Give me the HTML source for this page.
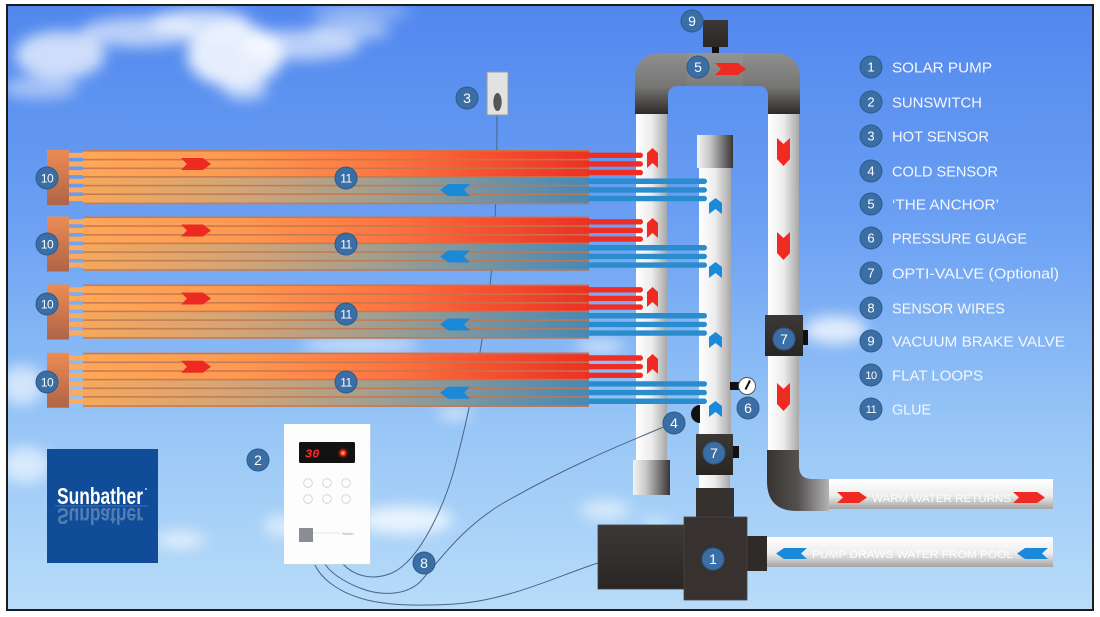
<!DOCTYPE html>
<html><head><meta charset="utf-8">
<style>
html,body{margin:0;padding:0;background:#fff;}
svg{display:block;}
</style></head><body>
<svg width="1100" height="617" viewBox="0 0 1100 617" xmlns="http://www.w3.org/2000/svg" font-family="'Liberation Sans', sans-serif">
<defs>
 <linearGradient id="sky" x1="0" y1="0" x2="0" y2="1">
  <stop offset="0" stop-color="#5288ee"/>
  <stop offset="0.35" stop-color="#6a9ff3"/>
  <stop offset="0.7" stop-color="#98c6f6"/>
  <stop offset="1" stop-color="#b8dcf9"/>
 </linearGradient>
 <clipPath id="skyclip"><rect x="7" y="5" width="1086" height="605"/></clipPath>
 <filter id="blur8" x="-50%" y="-50%" width="200%" height="200%"><feGaussianBlur stdDeviation="7"/></filter>
 <linearGradient id="vpipe" x1="0" y1="0" x2="1" y2="0">
  <stop offset="0" stop-color="#ffffff"/><stop offset="0.5" stop-color="#ececec"/><stop offset="1" stop-color="#a8a8a8"/>
 </linearGradient>
 <linearGradient id="hpipe" x1="0" y1="0" x2="0" y2="1">
  <stop offset="0" stop-color="#ffffff"/><stop offset="0.55" stop-color="#ededed"/><stop offset="1" stop-color="#a3a3a3"/>
 </linearGradient>
 <linearGradient id="collar" x1="0" y1="0" x2="1" y2="0">
  <stop offset="0" stop-color="#f4f4f4"/><stop offset="0.35" stop-color="#c8c8c8"/><stop offset="1" stop-color="#383635"/>
 </linearGradient>
 <linearGradient id="ugrad" gradientUnits="userSpaceOnUse" x1="0" y1="53" x2="0" y2="114">
  <stop offset="0" stop-color="#8f8f8f"/><stop offset="0.55" stop-color="#777675"/><stop offset="1" stop-color="#2e2a28"/>
 </linearGradient>
 <linearGradient id="elbow" gradientUnits="userSpaceOnUse" x1="767" y1="0" x2="829" y2="0">
  <stop offset="0" stop-color="#363230"/><stop offset="0.5" stop-color="#545150"/><stop offset="1" stop-color="#b3b3b3"/>
 </linearGradient>
 <linearGradient id="dark" x1="0" y1="0" x2="0" y2="1">
  <stop offset="0" stop-color="#3c3836"/><stop offset="1" stop-color="#2a2624"/>
 </linearGradient>
 <linearGradient id="hdr" x1="0" y1="0" x2="0" y2="1">
  <stop offset="0" stop-color="#ec8c55"/><stop offset="1" stop-color="#ae6447"/>
 </linearGradient>
 <linearGradient id="hot" gradientUnits="userSpaceOnUse" x1="83" y1="0" x2="589" y2="0">
  <stop offset="0" stop-color="#ffa758"/><stop offset="0.3" stop-color="#ff9a50"/><stop offset="0.6" stop-color="#ff7440"/><stop offset="0.8" stop-color="#f6502f"/><stop offset="1" stop-color="#ec3124"/>
 </linearGradient>
 <linearGradient id="cold" gradientUnits="userSpaceOnUse" x1="83" y1="0" x2="589" y2="0">
  <stop offset="0" stop-color="#f6a85a"/><stop offset="0.3" stop-color="#d4a576"/><stop offset="0.6" stop-color="#9d9e92"/><stop offset="1" stop-color="#4689b6"/>
 </linearGradient>
 <radialGradient id="led"><stop offset="0" stop-color="#ffd0a0"/><stop offset="0.35" stop-color="#ff3a1a"/><stop offset="1" stop-color="#600" stop-opacity="0"/></radialGradient>

 <g id="panel">
  <rect x="585" y="2.6" width="58" height="5.4" rx="2.7" fill="#ee2e24"/>
  <rect x="585" y="11.25" width="58" height="5.4" rx="2.7" fill="#ee2e24"/>
  <rect x="585" y="19.9" width="58" height="5.4" rx="2.7" fill="#ee2e24"/>
  <rect x="585" y="28.55" width="122" height="5.4" rx="2.7" fill="#2a8ccc"/>
  <rect x="585" y="37.2" width="122" height="5.4" rx="2.7" fill="#2a8ccc"/>
  <rect x="585" y="45.85" width="122" height="5.4" rx="2.7" fill="#2a8ccc"/>
  <rect x="47" y="0" width="22" height="55" fill="url(#hdr)"/>
  <rect x="69" y="2.8" width="15" height="5" fill="#fbaa5e"/>
  <rect x="69" y="11.45" width="15" height="5" fill="#fbaa5e"/>
  <rect x="69" y="20.1" width="15" height="5" fill="#fbaa5e"/>
  <rect x="69" y="28.75" width="15" height="5" fill="#fbaa5e"/>
  <rect x="69" y="37.4" width="15" height="5" fill="#fbaa5e"/>
  <rect x="69" y="46.05" width="15" height="5" fill="#fbaa5e"/>
  <rect x="83" y="0" width="506" height="27.3" fill="url(#hot)"/>
  <rect x="83" y="27.3" width="506" height="26.9" fill="url(#cold)"/>
  <g fill="#c27850" opacity="0.9">
   <rect x="83" y="0" width="506" height="1.6"/>
   <rect x="83" y="8.8" width="506" height="1.6"/>
   <rect x="83" y="17.5" width="506" height="1.6"/>
   <rect x="83" y="26.1" width="506" height="1.6"/>
   <rect x="83" y="34.8" width="506" height="1.6"/>
   <rect x="83" y="43.4" width="506" height="1.6"/>
   <rect x="83" y="52.6" width="506" height="1.6"/>
  </g>
  <polygon points="181,8 203,8 211,14 203,20 181,20 187,14" fill="#ec2a22"/>
  <polygon points="448,34 470,34 464,40 470,46 448,46 440,40" fill="#1a8ad8"/>
 </g>
</defs>

<!-- sky -->
<rect x="0" y="0" width="1100" height="617" fill="#ffffff"/>
<rect x="7" y="5" width="1086" height="605" fill="url(#sky)"/>

<!-- clouds -->
<g clip-path="url(#skyclip)" filter="url(#blur8)" fill="#ffffff">
 <ellipse cx="60" cy="55" rx="45" ry="24" opacity="0.7"/>
 <ellipse cx="40" cy="88" rx="38" ry="11" opacity="0.45"/>
 <ellipse cx="140" cy="32" rx="60" ry="15" opacity="0.6"/>
 <ellipse cx="200" cy="22" rx="50" ry="13" opacity="0.7"/>
 <ellipse cx="235" cy="55" rx="48" ry="32" opacity="0.85"/>
 <ellipse cx="245" cy="90" rx="22" ry="10" opacity="0.6"/>
 <ellipse cx="300" cy="45" rx="60" ry="15" opacity="0.6"/>
 <ellipse cx="350" cy="30" rx="40" ry="10" opacity="0.5"/>
 <ellipse cx="360" cy="12" rx="50" ry="7" opacity="0.4"/>
 <ellipse cx="22" cy="385" rx="22" ry="20" opacity="0.6"/>
 <ellipse cx="25" cy="465" rx="25" ry="18" opacity="0.6"/>
 <ellipse cx="180" cy="540" rx="25" ry="9" opacity="0.6"/>
 <ellipse cx="405" cy="520" rx="48" ry="14" opacity="0.75"/>
 <ellipse cx="280" cy="526" rx="16" ry="10" opacity="0.6"/>
 <ellipse cx="360" cy="345" rx="60" ry="8" opacity="0.55"/>
 <ellipse cx="600" cy="346" rx="25" ry="8" opacity="0.55"/>
 <ellipse cx="455" cy="413" rx="18" ry="7" opacity="0.55"/>
 <ellipse cx="835" cy="330" rx="32" ry="14" opacity="0.75"/>
 <ellipse cx="605" cy="510" rx="25" ry="10" opacity="0.55"/>
 <ellipse cx="655" cy="523" rx="14" ry="5" opacity="0.5"/>
</g>

<!-- hot sensor wire (behind panels) -->
<path d="M497,115 C497,200 494,260 488,300 C482,345 472,400 458,455 C446,505 420,560 392,573 C370,582 352,574 343,564" fill="none" stroke="#4d6488" stroke-width="1"/>

<!-- pipes -->
<rect x="636" y="108" width="31" height="354" fill="url(#vpipe)"/>
<rect x="768" y="108" width="31" height="345" fill="url(#vpipe)"/>
<rect x="699" y="160" width="32" height="276" fill="url(#vpipe)"/>
<rect x="697" y="135" width="36" height="33" fill="url(#collar)"/>
<rect x="633" y="460" width="37" height="35" fill="url(#collar)"/>
<path d="M635,114 L635,80 Q635,53 662,53 L773,53 Q800,53 800,80 L800,114 L768,114 L768,96 Q768,86 758,86 L678,86 Q668,86 668,96 L668,114 Z" fill="url(#ugrad)"/>
<rect x="687" y="53" width="56" height="33" fill="#ffffff" opacity="0.05"/>
<!-- vacuum brake -->
<rect x="703" y="20" width="25" height="27" fill="url(#dark)"/>
<rect x="712" y="47" width="7" height="6" fill="#111"/>

<!-- elbow & horizontal pipes -->
<path d="M767,450 L799,450 L799,466 Q799,479 812,479 L829,479 L829,511 L797,511 Q767,511 767,481 Z" fill="url(#elbow)"/>
<rect x="829" y="479" width="224" height="30" fill="url(#hpipe)"/>
<rect x="767" y="537" width="286" height="30" fill="url(#hpipe)"/>

<!-- middle pipe lower parts -->
<rect x="699" y="474" width="31" height="15" fill="url(#vpipe)"/>
<rect x="696" y="488" width="38" height="30" fill="#35312f"/>

<!-- pump -->
<rect x="598" y="525" width="88" height="64" fill="url(#dark)" stroke="#45403d" stroke-width="0.8"/>
<rect x="747" y="536" width="20" height="35" fill="#2f2b29"/>
<rect x="684" y="517" width="63" height="83" fill="#37322f" stroke="#4a4542" stroke-width="0.8"/>

<!-- panels -->
<use href="#panel" y="150"/>
<use href="#panel" y="216.5"/>
<use href="#panel" y="284.5"/>
<use href="#panel" y="352.7"/>

<!-- pipe arrows -->
<g fill="#ee2a22">
 <polygon points="647,153 652.5,148 658,153 658,168 652.5,163 647,168"/>
 <polygon points="647,223 652.5,218 658,223 658,238 652.5,233 647,238"/>
 <polygon points="647,292 652.5,287 658,292 658,307 652.5,302 647,307"/>
 <polygon points="647,359 652.5,354 658,359 658,374 652.5,369 647,374"/>
 <polygon points="777,138 783.5,144 790,138 790,159 783.5,166 777,159"/>
 <polygon points="777,232 783.5,238 790,232 790,253 783.5,260 777,253"/>
 <polygon points="777,383 783.5,389 790,383 790,404 783.5,411 777,404"/>
 <polygon points="715,63 738,63 746,69 738,75 715,75 721,69"/>
</g>
<g fill="#1a8ad8">
 <polygon points="709,203 715.5,198 722,203 722,214 715.5,209 709,214"/>
 <polygon points="709,267 715.5,262 722,267 722,278 715.5,273 709,278"/>
 <polygon points="709,337 715.5,332 722,337 722,348 715.5,343 709,348"/>
 <polygon points="709,406 715.5,401 722,406 722,417 715.5,412 709,417"/>
</g>

<!-- valves -->
<rect x="765" y="315" width="38" height="41" fill="url(#dark)"/>
<rect x="803" y="330" width="5" height="15" fill="#111"/>
<rect x="696" y="434" width="37" height="41" fill="url(#dark)"/>
<rect x="733" y="446" width="6" height="12" fill="#111"/>

<!-- gauge -->
<rect x="730" y="382" width="9" height="8" fill="#111"/>
<circle cx="747" cy="386" r="8.5" fill="#fff" stroke="#555" stroke-width="1"/>
<line x1="745.5" y1="389.5" x2="750" y2="380.5" stroke="#111" stroke-width="2"/>
<!-- cold sensor -->
<path d="M700,405 A9,9 0 0 0 700,423 Z" fill="#111"/>

<!-- hot sensor -->
<rect x="487" y="72" width="21" height="43" fill="#e2e2e2" stroke="#9a9a9a" stroke-width="1"/>
<ellipse cx="497.5" cy="102" rx="4.2" ry="9" fill="#555"/>

<!-- wires -->
<g fill="none" stroke="#4d6488" stroke-width="1">
 <path d="M666,426 C620,445 560,470 500,505 C460,530 440,560 420,582 C405,596 380,596 360,588 C342,581 330,572 325,564"/>
 <path d="M598,563 C560,575 510,600 455,604 C420,606 385,606 360,598 C340,592 322,580 315,565"/>
</g>

<!-- controller -->
<rect x="285" y="425" width="86" height="140" fill="#cfd8e4" opacity="0.5"/>
<rect x="284" y="424" width="86" height="140" fill="#fdfdfd"/>
<rect x="299" y="442" width="56" height="21" rx="1.5" fill="#121212"/>
<text x="305" y="457.5" font-family="'Liberation Mono', monospace" font-weight="bold" font-style="italic" font-size="12" fill="#ff2a2a">30</text>
<circle cx="343" cy="453" r="6" fill="url(#led)"/>
<g fill="none" stroke="#cfcfcf" stroke-width="0.8">
 <circle cx="308" cy="483" r="4.3"/><circle cx="327" cy="483" r="4.3"/><circle cx="346" cy="483" r="4.3"/>
 <circle cx="308" cy="499" r="4.3"/><circle cx="327" cy="499" r="4.3"/><circle cx="346" cy="499" r="4.3"/>
</g>
<rect x="299" y="528" width="14" height="14" fill="#8a8d94"/>
<line x1="313" y1="533" x2="340" y2="533" stroke="#d0d0d0" stroke-width="0.6"/>
<text x="342" y="535" font-size="4" fill="#9a9a9a">Switch</text>

<!-- Sunbather logo -->
<rect x="47" y="449" width="111" height="114" fill="#104c98"/>
<line x1="55" y1="506" x2="148" y2="506" stroke="#3f72b8" stroke-width="1"/>
<text x="57" y="504" font-size="23" font-weight="bold" fill="#ffffff" textLength="86" lengthAdjust="spacingAndGlyphs">Sunbather</text>
<circle cx="146" cy="489" r="0.9" fill="#fff"/>
<g transform="translate(0,1012) scale(1,-1)" opacity="0.28">
 <text x="57" y="504" font-size="23" font-weight="bold" fill="#ffffff" textLength="86" lengthAdjust="spacingAndGlyphs">Sunbather</text>
</g>

<!-- pipe labels -->
<polygon points="837,492 859,492 867,497.5 859,503 837,503 843,497.5" fill="#ee2a22"/>
<text x="872" y="502" font-size="11" fill="#ffffff" textLength="139" lengthAdjust="spacingAndGlyphs">WARM WATER RETURNS</text>
<polygon points="1013,492 1037,492 1045,497.5 1037,503 1013,503 1019,497.5" fill="#ee2a22"/>
<polygon points="784,548 807,548 801,553.5 807,559 784,559 776,553.5" fill="#1a8ad8"/>
<text x="812" y="558" font-size="11" fill="#ffffff" textLength="201" lengthAdjust="spacingAndGlyphs">PUMP DRAWS WATER FROM POOL</text>
<polygon points="1025,548 1048,548 1042,553.5 1048,559 1025,559 1017,553.5" fill="#1a8ad8"/>

<!-- diagram badges -->
<g stroke="#2c5b8c" stroke-width="1" fill="#3b6ea5">
 <circle cx="692" cy="21" r="11"/>
 <circle cx="698" cy="67" r="11"/>
 <circle cx="467" cy="98" r="11"/>
 <circle cx="47" cy="178" r="11"/><circle cx="346" cy="178" r="11"/>
 <circle cx="47" cy="244" r="11"/><circle cx="346" cy="244" r="11"/>
 <circle cx="47" cy="304" r="11"/><circle cx="346" cy="314" r="11"/>
 <circle cx="47" cy="382" r="11"/><circle cx="346" cy="382" r="11"/>
 <circle cx="784" cy="339" r="11"/>
 <circle cx="748" cy="408" r="11"/>
 <circle cx="674" cy="423" r="11"/>
 <circle cx="714" cy="453" r="11"/>
 <circle cx="258" cy="460" r="11"/>
 <circle cx="713" cy="559" r="11"/>
 <circle cx="424" cy="563" r="11"/>
</g>
<g fill="#ffffff" font-size="14" text-anchor="middle">
 <text x="692" y="26">9</text>
 <text x="698" y="72">5</text>
 <text x="467" y="103">3</text>
 <text x="784" y="344">7</text>
 <text x="748" y="413">6</text>
 <text x="674" y="428">4</text>
 <text x="714" y="458">7</text>
 <text x="258" y="465">2</text>
 <text x="713" y="564">1</text>
 <text x="424" y="568">8</text>
</g>
<g fill="#ffffff" font-size="12" text-anchor="middle" letter-spacing="-0.5">
 <text x="47" y="182.5">10</text><text x="346" y="182.5">11</text>
 <text x="47" y="248.5">10</text><text x="346" y="248.5">11</text>
 <text x="47" y="308.5">10</text><text x="346" y="318.5">11</text>
 <text x="47" y="386.5">10</text><text x="346" y="386.5">11</text>
</g>

<!-- legend -->
<g stroke="#2c5b8c" stroke-width="1" fill="#3b6ea5">
 <circle cx="871" cy="67" r="11"/><circle cx="871" cy="102" r="11"/><circle cx="871" cy="136" r="11"/>
 <circle cx="871" cy="171" r="11"/><circle cx="871" cy="204" r="11"/><circle cx="871" cy="238" r="11"/>
 <circle cx="871" cy="273" r="11"/><circle cx="871" cy="308" r="11"/><circle cx="871" cy="341" r="11"/>
 <circle cx="871" cy="375" r="11"/><circle cx="871" cy="409" r="11"/>
</g>
<g fill="#ffffff" font-size="13" text-anchor="middle">
 <text x="871" y="71.5">1</text><text x="871" y="106.5">2</text><text x="871" y="140.5">3</text>
 <text x="871" y="175.5">4</text><text x="871" y="208.5">5</text><text x="871" y="242.5">6</text>
 <text x="871" y="277.5">7</text><text x="871" y="312.5">8</text><text x="871" y="345.5">9</text>
 <text x="871" y="379" font-size="11" letter-spacing="-0.5">10</text><text x="871" y="413" font-size="11" letter-spacing="-0.5">11</text>
</g>
<g fill="#f4f7fc" font-size="15">
 <text x="892" y="72.5" textLength="100" lengthAdjust="spacingAndGlyphs">SOLAR PUMP</text>
 <text x="892" y="107.5" textLength="90" lengthAdjust="spacingAndGlyphs">SUNSWITCH</text>
 <text x="892" y="141.5" textLength="97" lengthAdjust="spacingAndGlyphs">HOT SENSOR</text>
 <text x="892" y="176.5" textLength="106" lengthAdjust="spacingAndGlyphs">COLD SENSOR</text>
 <text x="892" y="209.5" textLength="107" lengthAdjust="spacingAndGlyphs">‘THE ANCHOR’</text>
 <text x="892" y="243.5" textLength="135" lengthAdjust="spacingAndGlyphs">PRESSURE GUAGE</text>
 <text x="892" y="278.5" textLength="167" lengthAdjust="spacingAndGlyphs">OPTI-VALVE (Optional)</text>
 <text x="892" y="313.5" textLength="113" lengthAdjust="spacingAndGlyphs">SENSOR WIRES</text>
 <text x="892" y="346.5" textLength="173" lengthAdjust="spacingAndGlyphs">VACUUM BRAKE VALVE</text>
 <text x="892" y="380.5" textLength="91" lengthAdjust="spacingAndGlyphs">FLAT LOOPS</text>
 <text x="892" y="414.5" textLength="39" lengthAdjust="spacingAndGlyphs">GLUE</text>
</g>

<!-- frame -->
<rect x="7" y="5" width="1086" height="605" fill="none" stroke="#1c1c1c" stroke-width="2"/>
</svg>
</body></html>
